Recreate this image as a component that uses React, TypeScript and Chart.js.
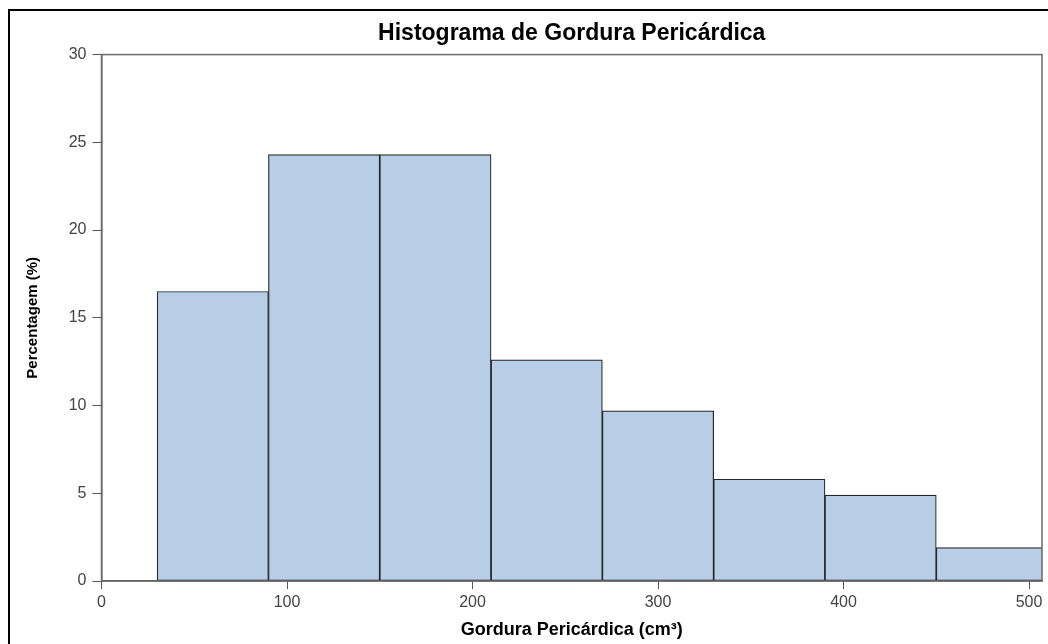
import React, { useEffect, useRef } from "react";
import { Chart, registerables } from "chart.js";

Chart.register(...registerables);

const chartTitle = "Histograma de Gordura Pericárdica";
const xTitle = "Gordura Pericárdica (cm³)";
const yTitle = "Percentagem (%)";
const binStarts = [30, 90, 150, 210, 270, 330, 390, 450];
const binWidth = 60;
const percents = [16.5, 24.3, 24.3, 12.6, 9.7, 5.8, 4.9, 1.9];
const xTicks = [0, 100, 200, 300, 400, 500];
const yTicks = [0, 5, 10, 15, 20, 25, 30];
const xMax = 507;
const yMax = 30;

const FONT = "'Liberation Sans', Arial, sans-serif";

const plotBox = {
  id: "plotBox",
  afterDatasetsDraw(chart: any) {
    const { ctx, chartArea } = chart;
    ctx.save();
    ctx.strokeStyle = "#6a6a6a";
    ctx.lineWidth = 1.5;
    ctx.strokeRect(chartArea.left, chartArea.top, chartArea.right - chartArea.left, chartArea.bottom - chartArea.top);
    ctx.restore();
  },
};

export default function App() {
  const ref = useRef<HTMLCanvasElement>(null);
  useEffect(() => {
    if (!ref.current) return;
    const data = binStarts.map((s, i) => ({ x: s + binWidth / 2, y: percents[i] }));
    const chart = new Chart(ref.current, {
      type: "bar",
      data: {
        datasets: [
          {
            data,
            backgroundColor: "#b8cee6",
            borderColor: "#262626",
            borderWidth: 1.2,
            borderSkipped: false,
            barPercentage: 1,
            categoryPercentage: 1,
            clip: 0,
          } as any,
        ],
      },
      options: {
        animation: false,
        responsive: false,
        maintainAspectRatio: false,
        layout: { padding: { left: 0, right: 6, top: 0, bottom: 0 } },
        plugins: {
          legend: { display: false },
          tooltip: { enabled: false },
          title: {
            display: true,
            text: chartTitle,
            fullSize: false,
            color: "#000",
            font: { family: FONT, size: 23, weight: "bold" },
            padding: { top: 9, bottom: 7 },
          },
        },
        scales: {
          x: {
            type: "linear",
            min: 0,
            max: xMax,
            offset: false,
            afterBuildTicks: (s: any) => {
              s.ticks = xTicks.map((v) => ({ value: v }));
            },
            afterFit: (s: any) => {
              s.height = 63;
            },
            ticks: {
              includeBounds: false,
              color: "#444",
              font: { family: FONT, size: 16 },
              padding: 4,
              maxRotation: 0,
              callback: (v: any) => String(v),
            },
            grid: { display: true, offset: false, drawOnChartArea: false, drawTicks: true, tickLength: 8, color: "#555", lineWidth: 1 },
            border: { display: true, color: "#555", width: 1.5 },
            title: {
              display: true,
              text: xTitle,
              color: "#000",
              font: { family: FONT, size: 18, weight: "bold" },
              padding: { top: 0, bottom: 3 },
            },
          },
          y: {
            type: "linear",
            min: 0,
            max: yMax,
            afterBuildTicks: (s: any) => {
              s.ticks = yTicks.map((v) => ({ value: v }));
            },
            afterFit: (s: any) => {
              s.width = 91.5;
            },
            ticks: {
              color: "#444",
              font: { family: FONT, size: 16 },
              padding: 6,
              callback: (v: any) => String(v),
            },
            grid: { display: true, offset: false, drawOnChartArea: false, drawTicks: true, tickLength: 9, color: "#555", lineWidth: 1 },
            border: { display: true, color: "#555", width: 1.5 },
            title: {
              display: true,
              text: yTitle,
              color: "#000",
              font: { family: FONT, size: 15, weight: "bold" },
              padding: { top: 14, bottom: 0 },
            },
          },
        },
      },
      plugins: [plotBox],
    });
    return () => chart.destroy();
  }, []);

  return (
    <div
      style={{
        position: "fixed",
        left: 8,
        top: 9,
        width: 1040,
        height: 635,
        borderTop: "2px solid #000",
        borderLeft: "2px solid #000",
        background: "#fff",
        overflow: "hidden",
      }}
    >
      <canvas ref={ref} width={1038} height={633} style={{ display: "block", width: 1038, height: 633 }} />
    </div>
  );
}
